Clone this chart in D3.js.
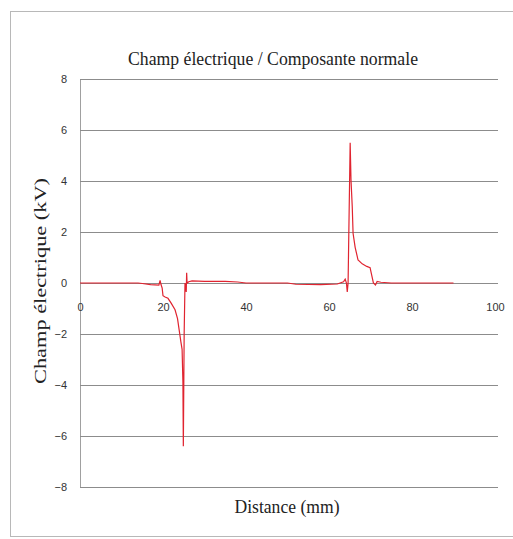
<!DOCTYPE html>
<html><head><meta charset="utf-8">
<script src="https://cdn.jsdelivr.net/npm/d3@7/dist/d3.min.js"></script>
<style>body{margin:0;background:#fff;} svg{display:block;}</style>
</head><body>
<svg id="c" width="513" height="539"></svg>
<script>
const title = "Champ électrique / Composante normale";
const xLabel = "Distance (mm)";
const yLabel = "Champ électrique (kV)";
const xTicks = [0, 20, 40, 60, 80, 100];
const yTicks = [-8, -6, -4, -2, 0, 2, 4, 6, 8];
const distance = [0,14,15,17,19,19.3,19.5,19.8,20.0,20.5,21.2,22,22.9,23.5,23.9,24.3,24.6,24.8,24.9,25.1,25.3,25.6,25.7,25.8,26.2,27,30,35,38,40,50,52,58,62,63.5,63.9,64.2,64.4,64.6,65.1,65.3,65.6,65.8,66.3,67,68,69.1,69.9,70.3,70.7,71.2,71.6,72.5,75,90];
const champ = [0,0,-0.02,-0.06,-0.08,0.1,-0.05,-0.2,-0.5,-0.55,-0.6,-0.8,-1.05,-1.4,-1.85,-2.3,-2.6,-3.9,-6.4,-2,0,-0.35,0.4,0,0.05,0.08,0.06,0.06,0.04,0,0,-0.05,-0.06,-0.04,0.05,0.15,0,-0.35,0,5.5,4.05,3,1.95,1.4,0.9,0.75,0.65,0.6,0.3,0,-0.08,0.06,0.03,0,0];

const svg = d3.select("#c");
const x = d3.scaleLinear().domain([0, 100]).range([80, 495]);
const y = d3.scaleLinear().domain([-8, 8]).range([487, 79]);

// outer frame
svg.append("rect").attr("x", 10.5).attr("y", 11.5).attr("width", 520).attr("height", 525)
  .attr("fill", "#fff").attr("stroke", "#b8b8b8").attr("stroke-width", 1);

// y axis
const yAxis = d3.axisLeft(y).tickValues(yTicks).tickSize(0).tickPadding(13).tickFormat(d3.format("d"));
const gy = svg.append("g").attr("transform", "translate(80,0)").call(yAxis);
gy.select(".domain").attr("stroke", "#a0a0a0");
gy.selectAll("text").attr("font-family", "Liberation Sans, Arial, sans-serif").attr("font-size", 11).attr("fill", "#333");
// gridlines
svg.append("g").selectAll("line").data(yTicks).join("line")
  .attr("x1", 80).attr("x2", 498)
  .attr("y1", d => Math.round(y(d)) + 0.5).attr("y2", d => Math.round(y(d)) + 0.5)
  .attr("stroke", "#8c8c8c").attr("stroke-width", 1);

// x axis at zero
const xAxis = d3.axisBottom(x).tickValues(xTicks).tickSize(0).tickPadding(20);
const gx = svg.append("g").attr("transform", `translate(0,${y(0)})`).call(xAxis);
gx.select(".domain").remove();
gx.selectAll("text").attr("font-family", "Liberation Sans, Arial, sans-serif").attr("font-size", 11).attr("fill", "#333");

// line
const pts = distance.map((d, i) => [d, champ[i]]);
svg.append("path").datum(pts)
  .attr("d", d3.line().x(d => x(d[0])).y(d => y(d[1])))
  .attr("fill", "none").attr("stroke", "#e02430").attr("stroke-width", 1.2);

// texts
svg.append("text").attr("x", 273).attr("y", 65).attr("text-anchor", "middle")
  .attr("font-family", "Liberation Serif, Times New Roman, serif").attr("font-size", 18)
  .attr("textLength", 290).attr("lengthAdjust", "spacingAndGlyphs").attr("fill", "#222").text(title);
svg.append("text").attr("x", 287).attr("y", 513).attr("text-anchor", "middle")
  .attr("font-family", "Liberation Serif, Times New Roman, serif").attr("font-size", 18)
  .attr("textLength", 105).attr("lengthAdjust", "spacingAndGlyphs").attr("fill", "#222").text(xLabel);
svg.append("text").attr("transform", "translate(46,281) rotate(-90)").attr("text-anchor", "middle")
  .attr("font-family", "Liberation Serif, Times New Roman, serif").attr("font-size", 17)
  .attr("textLength", 206).attr("lengthAdjust", "spacingAndGlyphs").attr("fill", "#222").text(yLabel);
</script>
</body></html>
